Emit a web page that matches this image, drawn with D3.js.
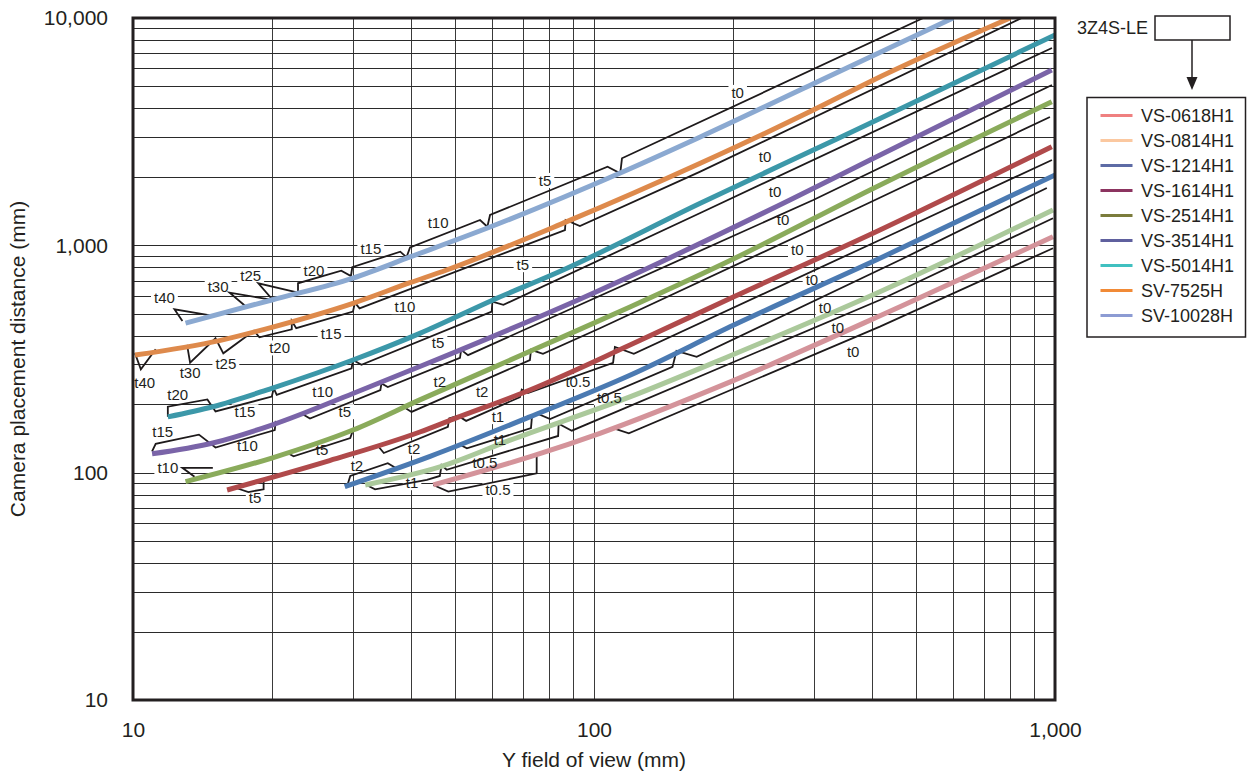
<!DOCTYPE html>
<html><head><meta charset="utf-8">
<script src="https://cdn.jsdelivr.net/npm/d3@7"></script>
<style>
body{margin:0;background:#fff;}
svg{display:block;font-family:"Liberation Sans",Arial,Helvetica,sans-serif;}
</style></head><body>
<svg id="chart" width="1247" height="774"></svg>
<script>
// ---------- DATA ----------
const lenses = ["VS-0618H1","VS-0814H1","VS-1214H1","VS-1614H1","VS-2514H1","VS-3514H1","VS-5014H1","SV-7525H","SV-10028H"];
const curveColors = ["#d4939a","#abc99b","#4b7ab2","#b04a4b","#8aab5b","#7a64a8","#3c98a9","#de8a4c","#8ba9d1"];
const legendColors = ["#ef8080","#fbc8a0","#5d6ba5","#8c3460","#7b7c3c","#5f609e","#40c0c0","#f18a36","#8c9bd3"];

const xTickValues = [10, 100, 1000];
const yTickValues = [10, 100, 1000, 10000];
const xGridValues = [20,30,40,50,60,70,80,90,100,200,300,400,500,600,700,800,900];
const yGridValues = [20,30,40,50,60,70,80,90,100,200,300,400,500,600,700,800,900,1000,2000,3000,4000,5000,6000,7000,8000,9000];

// coloured curves: [Y field of view mm, camera distance mm]
const c0618  = [[44.8,88.3],[75.1,120],[103,149],[194,247],[461,537],[990,1091]];
const c0814  = [[31.9,88.3],[46.3,106],[65.8,139],[120,216],[197,326],[417,625],[990,1431]];
const c1214  = [[28.8,86.8],[44.1,118],[72.6,176],[120,269],[201,446],[417,877],[1000,2039]];
const c1614  = [[16.0,83.9],[26.7,113],[41.9,151],[49.5,172],[72.6,231],[120,365],[201,594],[417,1168],[984,2716]];
const c2514  = [[13.0,91.3],[20.0,116],[30.0,154],[41.9,209],[73.9,347],[120,537],[201,873],[397,1752],[984,4285]];
const c3514  = [[11.0,121],[14.9,135],[20.0,162],[30.0,223],[41.9,293],[92.3,575],[266,1583],[397,2374],[984,5906]];
const c5014  = [[11.9,176],[14.9,195],[20.0,235],[30.0,313],[41.9,410],[60.4,575],[85.7,779],[170,1531],[299,2627],[397,3442],[1000,8420]];
const c7525  = [[10.1,329],[15.4,381],[20.0,436],[30.0,556],[39.9,685],[47.9,779],[87.3,1271],[170,2296],[299,3938],[397,5248],[799,10000]];
const c10028 = [[13.0,455],[20.0,575],[30.0,718],[39.9,889],[59.5,1204],[114,2081],[170,2997],[299,5140],[601,10000]];

// extension-tube lines (black), list of polylines per lens
const t0618  = [[[44.8,88.3],[48.3,82.5],[75.1,99.4],[75.1,120]],
                [[110,157],[119,149],[417,439],[990,971]]];
const t0814  = [[[32.1,88.3],[33.5,84.5],[43.4,92.9],[46.3,96.7],[46.7,108],[47.9,103],[83.6,145],[83.8,164],[89.5,153],[417,575],[990,1315]]];
const t1214  = [[[29.1,86.5],[29.6,96.7],[35.7,110],[37.4,104]],
                [[50.7,134],[53.0,128],[73.0,157],[73.4,179],[75.2,182],[80.3,172],[148,292],[151,343],[167,323],[461,862],[960,1788]]];
const t1614  = [[[16.8,85.4],[17.8,82.2],[19.2,84.5],[19.2,92.2]],
                [[34.0,131],[35.0,122],[48.2,159],[48.5,173],[50.7,178],[52.8,169],[69.1,215],[69.7,232],[71.9,224],[110,304],[111,357],[122,333],[417,1056],[985,2374]]];
const t2514  = [[[13.6,96],[12.8,105],[14.9,105]],
                [[21.5,123],[22.3,118],[29.6,142],[30.1,157]],
                [[38.6,195],[40.2,185],[72.6,313],[73.0,347],[77.5,333],[103,432],[378,1475],[975,3668]]];
const t3514  = [[[11.0,124],[11.2,134],[13.9,147],[15.1,129],[20.3,154],[20.4,169]],
                [[23.2,182],[24.2,173],[34.4,231],[34.6,247],[35.7,238],[51.2,320],[51.5,347],[53.3,329],[299,1583],[985,5073]]];
const t5014  = [[[11.9,176],[11.9,195],[14.5,210],[15.1,186],[20.0,216],[20.2,235],[20.5,220],[29.8,288],[30.0,313],[31.3,298],[60.0,511],[60.2,565],[63.6,547],[170,1388],[985,7380]]];
const t7525  = [[[10.1,335],[10.4,285],[11.2,349]],
                [[13.1,365],[13.3,305],[15.1,390],[15.7,335],[18.3,421],[18.8,394],[22.1,427],[22.1,465],[22.6,432],[30.0,511],[30.3,560],[31.0,528],[86.5,1168],[86.8,1293],[93.2,1216],[170,2109],[847,10000]]];
const t10028 = [[[12.8,465],[12.3,523],[14.5,494]],
                [[17.6,537],[16.2,619],[20.1,575],[18.7,681],[22.8,619],[22.8,681],[28.3,774],[29.7,733],[29.9,801],[38.0,938],[39.2,886],[39.9,980],[56.6,1293],[58.7,1208],[59.5,1360],[107,2218],[114,2075],[115,2415],[518,10000]]];

// tube labels: [text, fov, distance]
const l0618  = [["t0.5",61.9,83.9],["t0",365,340]];
const l0814  = [["t1",40.3,90.1],["t0.5",58.0,111],["t0",338,433]];
const l1214  = [["t2",30.6,107],["t1",62.5,139],["t0.5",108,213],["t0",317,530]];
const l1614  = [["t5",18.4,77.4],["t2",40.7,128],["t1",61.9,176],["t0.5",92.3,251],["t0",297,704]];
const l2514  = [["t10",11.9,105],["t5",25.7,126],["t2",57.2,226],["t0",276,954]];
const l3514  = [["t15",11.6,151],["t10",17.7,132],["t5",28.8,185],["t2",46.3,251],["t0",257,1293]];
const l5014  = [["t20",12.5,220],["t15",17.5,185],["t10",25.8,226],["t5",45.9,372],["t0",247,1717]];
const l7525  = [["t40",10.6,248],["t30",13.3,274],["t25",15.9,301],["t20",20.8,353],["t15",26.9,407],["t10",38.9,536],["t5",70.1,820],["t0",235,2447]];
const l10028 = [["t40",11.7,587],["t30",15.3,656],["t25",18.0,733],["t20",24.7,774],["t15",32.8,964],["t10",45.9,1254],["t5",78.3,1925],["t0",205,4694]];

const curves = [c0618,c0814,c1214,c1614,c2514,c3514,c5014,c7525,c10028];
const tubes  = [t0618,t0814,t1214,t1614,t2514,t3514,t5014,t7525,t10028];
const labels = [l0618,l0814,l1214,l1614,l2514,l3514,l5014,l7525,l10028];

// ---------- CHART ----------
const svg = d3.select("#chart");
const L = 133, R = 1055, T = 18, B = 700;
const x = d3.scaleLog().domain([10,1000]).range([L,R]);
const y = d3.scaleLog().domain([10,10000]).range([B,T]);

svg.append("defs").append("clipPath").attr("id","plotclip")
  .append("rect").attr("x",L).attr("y",T).attr("width",R-L).attr("height",B-T);

// grid
const gx = svg.append("g").attr("transform",`translate(0,${B})`)
  .call(d3.axisBottom(x).tickValues(xGridValues).tickSize(-(B-T)).tickFormat(""));
gx.select(".domain").remove();
gx.selectAll("line").attr("stroke","#3a3a3a").attr("stroke-width",1).attr("shape-rendering","crispEdges");
const gy = svg.append("g").attr("transform",`translate(${L},0)`)
  .call(d3.axisLeft(y).tickValues(yGridValues).tickSize(-(R-L)).tickFormat(""));
gy.select(".domain").remove();
gy.selectAll("line").attr("stroke","#2a2a2a").attr("stroke-width",1).attr("shape-rendering","crispEdges");

const labelBg = svg.append("g");
const plot = svg.append("g").attr("clip-path","url(#plotclip)");

const curveLine = d3.line().x(d=>x(d[0])).y(d=>y(d[1])).curve(d3.curveMonotoneX);
const tubeLine = d3.line().x(d=>x(d[0])).y(d=>y(d[1]));

tubes.forEach(segs=>{
  segs.forEach(s=>{
    plot.append("path").attr("d",tubeLine(s)).attr("fill","none")
      .attr("stroke","#1e1a1b").attr("stroke-width",1.8).attr("stroke-linejoin","miter");
  });
});
curves.forEach((c,i)=>{
  plot.append("path").attr("d",curveLine(c)).attr("fill","none")
    .attr("stroke",curveColors[i]).attr("stroke-width",5);
});

// tube labels
const lab = svg.append("g").attr("font-size",15).attr("fill","#231f20");
labels.forEach(ls=>{
  ls.forEach(l=>{
    const t = lab.append("text").attr("x",x(l[1])).attr("y",y(l[2]))
      .attr("text-anchor","middle").attr("dy","0.35em").text(l[0]);
    const bb = t.node().getBBox();
    labelBg.append("rect").attr("x",bb.x-3).attr("y",bb.y+1).attr("width",bb.width+6).attr("height",bb.height-2)
      .attr("fill","#fff");
  });
});

// frame
svg.append("rect").attr("x",L).attr("y",T).attr("width",R-L).attr("height",B-T)
  .attr("fill","none").attr("stroke","#231f20").attr("stroke-width",3);

// axes labels
const ax = svg.append("g").attr("transform",`translate(${L},0)`)
  .call(d3.axisLeft(y).tickValues(yTickValues).tickFormat(d3.format(",")).tickSize(0).tickPadding(25));
ax.select(".domain").remove();
ax.selectAll("text").attr("font-size",21).attr("fill","#231f20").attr("font-family","Liberation Sans, Arial, sans-serif");
const bx = svg.append("g").attr("transform",`translate(0,${B})`)
  .call(d3.axisBottom(x).tickValues(xTickValues).tickFormat(d3.format(",")).tickSize(0).tickPadding(22));
bx.select(".domain").remove();
bx.selectAll("text").attr("font-size",21).attr("fill","#231f20").attr("font-family","Liberation Sans, Arial, sans-serif");

svg.append("text").attr("x",(L+R)/2).attr("y",760).attr("dy","0.35em").attr("text-anchor","middle")
  .attr("font-size",21).attr("fill","#231f20").text("Y field of view (mm)");
svg.append("text").attr("transform","translate(18,359) rotate(-90)").attr("dy","0.35em").attr("text-anchor","middle")
  .attr("font-size",21).attr("fill","#231f20").text("Camera placement distance (mm)");

// 3Z4S-LE box and arrow
svg.append("text").attr("x",1148).attr("y",28).attr("dy","0.35em").attr("text-anchor","end")
  .attr("font-size",18).attr("fill","#231f20").text("3Z4S-LE");
svg.append("rect").attr("x",1155).attr("y",16).attr("width",75).attr("height",24)
  .attr("fill","#fff").attr("stroke","#231f20").attr("stroke-width",1.5);
svg.append("line").attr("x1",1192).attr("x2",1192).attr("y1",40).attr("y2",79)
  .attr("stroke","#231f20").attr("stroke-width",1.5);
svg.append("path").attr("d","M1186.5,77 L1197.5,77 L1192,90 Z").attr("fill","#231f20");

// legend
const lg = svg.append("g");
lg.append("rect").attr("x",1087).attr("y",97.5).attr("width",158.5).attr("height",239.5)
  .attr("fill","#fff").attr("stroke","#231f20").attr("stroke-width",1.5);
lenses.forEach((n,i)=>{
  const yy = 115.5 + i*25;
  lg.append("line").attr("x1",1100.5).attr("x2",1132.5).attr("y1",yy).attr("y2",yy)
    .attr("stroke",legendColors[i]).attr("stroke-width",3);
  lg.append("text").attr("x",1141).attr("y",yy).attr("dy","0.35em").attr("font-size",18)
    .attr("fill","#231f20").text(n);
});
</script>
</body></html>
